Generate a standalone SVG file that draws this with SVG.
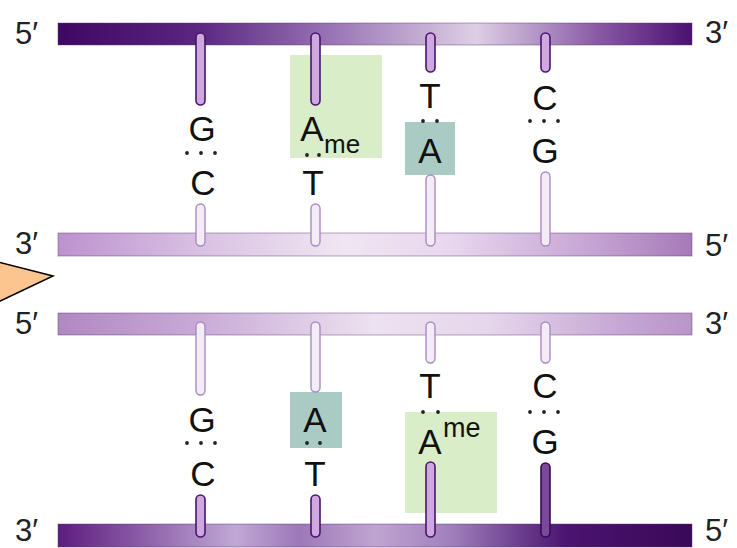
<svg xmlns="http://www.w3.org/2000/svg" width="737" height="548" viewBox="0 0 737 548">
<defs>
<linearGradient id="gs1" gradientUnits="userSpaceOnUse" x1="58" y1="0" x2="692" y2="0">
<stop offset="0" stop-color="#3e0762"/><stop offset="0.22" stop-color="#5a2680"/><stop offset="0.42" stop-color="#9670b2"/><stop offset="0.66" stop-color="#ddcfe5"/><stop offset="0.85" stop-color="#8a5aa6"/><stop offset="1" stop-color="#4a1170"/>
</linearGradient>
<linearGradient id="gs2" gradientUnits="userSpaceOnUse" x1="58" y1="0" x2="692" y2="0">
<stop offset="0" stop-color="#bd92cf"/><stop offset="0.22" stop-color="#d8c0e2"/><stop offset="0.45" stop-color="#f0e6f2"/><stop offset="0.62" stop-color="#e8d6ee"/><stop offset="0.85" stop-color="#c4a2d2"/><stop offset="1" stop-color="#a67ab8"/>
</linearGradient>
<linearGradient id="gs3" gradientUnits="userSpaceOnUse" x1="58" y1="0" x2="692" y2="0">
<stop offset="0" stop-color="#b088c2"/><stop offset="0.22" stop-color="#c8aad6"/><stop offset="0.5" stop-color="#ede2f0"/><stop offset="0.68" stop-color="#e6d6ec"/><stop offset="0.9" stop-color="#c4a4d2"/><stop offset="1" stop-color="#b896c8"/>
</linearGradient>
<linearGradient id="gs4" gradientUnits="userSpaceOnUse" x1="58" y1="0" x2="692" y2="0">
<stop offset="0" stop-color="#5c1c7e"/><stop offset="0.28" stop-color="#c0a8d4"/><stop offset="0.38" stop-color="#9c78b8"/><stop offset="0.5" stop-color="#c0a4d0"/><stop offset="0.62" stop-color="#a080bc"/><stop offset="0.8" stop-color="#4a1470"/><stop offset="1" stop-color="#3a0858"/>
</linearGradient>
</defs>
<style>
.strand{stroke:#5a3a70;stroke-opacity:0.45;stroke-width:1}
.rd{fill:#cfa8e2;stroke:#48166a;stroke-width:1.6}
.rd2{fill:#7a4a9a;stroke:#3a0a5a;stroke-width:1.6}
.rl{fill:#f3ecf7;stroke:#a88cc0;stroke-width:1.4}
.green{fill:#d9edc9}
.teal{fill:#a9cbc3}
.base{font-family:"Liberation Sans",Arial,sans-serif;font-size:35px;fill:#111;text-anchor:middle}
.me{font-family:"Liberation Sans",Arial,sans-serif;font-size:26px;fill:#111}
.end{font-family:"Liberation Sans",Arial,sans-serif;font-size:31px;fill:#222}
.dot{fill:#222}
</style>
<rect width="737" height="548" fill="#ffffff"/>

<g id="strands">
<rect id="strand1" class="strand" x="58" y="23" width="634" height="22" fill="url(#gs1)"/>
<rect id="strand2" class="strand" x="58" y="233" width="634" height="23" fill="url(#gs2)"/>
<rect id="strand3" class="strand" x="58" y="313" width="634" height="22" fill="url(#gs3)"/>
<rect id="strand4" class="strand" x="58" y="524" width="634" height="23" fill="url(#gs4)"/>
</g>

<g id="ends">
<text class="end" x="15" y="44">5′</text>
<text class="end" x="705" y="43">3′</text>
<text class="end" x="15" y="254">3′</text>
<text class="end" x="705" y="256">5′</text>
<text class="end" x="15" y="334">5′</text>
<text class="end" x="705" y="334">3′</text>
<text class="end" x="15" y="541">3′</text>
<text class="end" x="705" y="541">5′</text>
</g>

<g id="highlights">
<rect id="box-ame-top" class="green" x="290" y="55" width="92" height="103"/>
<rect id="box-a-top" class="teal" x="405" y="122" width="50" height="53"/>
<rect id="box-a-bottom" class="teal" x="290" y="392" width="52" height="56"/>
<rect id="box-ame-bottom" class="green" x="405" y="412" width="92" height="101"/>
</g>

<g id="connectors">
<rect class="rd" x="196" y="33" width="9" height="72" rx="4.5"/>
<rect class="rd" x="311" y="33" width="9" height="72" rx="4.5"/>
<rect class="rd" x="426" y="33" width="9" height="39" rx="4.5"/>
<rect class="rd" x="541" y="33" width="9" height="39" rx="4.5"/>
<rect class="rl" x="196" y="204" width="9" height="42" rx="4.5"/>
<rect class="rl" x="311" y="204" width="9" height="42" rx="4.5"/>
<rect class="rl" x="426" y="175" width="9" height="71" rx="4.5"/>
<rect class="rl" x="541" y="172" width="9" height="74" rx="4.5"/>
<rect class="rl" x="196" y="322" width="9" height="73" rx="4.5"/>
<rect class="rl" x="311" y="322" width="9" height="70" rx="4.5"/>
<rect class="rl" x="426" y="322" width="9" height="41" rx="4.5"/>
<rect class="rl" x="541" y="322" width="9" height="41" rx="4.5"/>
<rect class="rd" x="196" y="495" width="9" height="42" rx="4.5"/>
<rect class="rd" x="311" y="495" width="9" height="42" rx="4.5"/>
<rect class="rd" x="426" y="462" width="9" height="75" rx="4.5"/>
<rect class="rd2" x="541" y="463" width="9" height="74" rx="4.5"/>
<g id="hbonds">
<circle class="dot" cx="187" cy="153" r="1.9"/><circle class="dot" cx="201" cy="153" r="1.9"/><circle class="dot" cx="215" cy="153" r="1.9"/>
<circle class="dot" cx="307" cy="155" r="1.9"/><circle class="dot" cx="319" cy="155" r="1.9"/>
<circle class="dot" cx="423" cy="121" r="1.9"/><circle class="dot" cx="437" cy="121" r="1.9"/>
<circle class="dot" cx="530" cy="121" r="1.9"/><circle class="dot" cx="544" cy="121" r="1.9"/><circle class="dot" cx="558" cy="121" r="1.9"/>
<circle class="dot" cx="187" cy="443" r="1.9"/><circle class="dot" cx="201" cy="443" r="1.9"/><circle class="dot" cx="215" cy="443" r="1.9"/>
<circle class="dot" cx="307" cy="443" r="1.9"/><circle class="dot" cx="320" cy="443" r="1.9"/>
<circle class="dot" cx="423" cy="412" r="1.9"/><circle class="dot" cx="438" cy="412" r="1.9"/>
<circle class="dot" cx="530" cy="412" r="1.9"/><circle class="dot" cx="544" cy="412" r="1.9"/><circle class="dot" cx="558" cy="412" r="1.9"/>
</g>
</g>

<g id="bases-top">
<g id="pair1-top"><text class="base" x="202" y="141">G</text><text class="base" x="203" y="195">C</text></g>
<g id="pair2-top"><text class="base" x="312" y="141">A</text><text class="me" x="324" y="153">me</text><text class="base" x="313" y="195">T</text></g>
<g id="pair3-top"><text class="base" x="430" y="108">T</text><text class="base" x="430" y="163">A</text></g>
<g id="pair4-top"><text class="base" x="545" y="110">C</text><text class="base" x="545" y="163">G</text></g>
</g>

<g id="bases-bottom">
<g id="pair1-bottom"><text class="base" x="202" y="432">G</text><text class="base" x="203" y="486">C</text></g>
<g id="pair2-bottom"><text class="base" x="315" y="432">A</text><text class="base" x="315" y="486">T</text></g>
<g id="pair3-bottom"><text class="base" x="430" y="398">T</text><text class="base" x="430" y="454">A</text><text class="me" x="443" y="437" style="font-size:27px">me</text></g>
<g id="pair4-bottom"><text class="base" x="545" y="398">C</text><text class="base" x="545" y="454">G</text></g>
</g>

<g id="pointer">
<polygon points="-2,262 53,276 -2,302" fill="#fcc590" stroke="#000" stroke-width="1.5"/>
</g>
</svg>
